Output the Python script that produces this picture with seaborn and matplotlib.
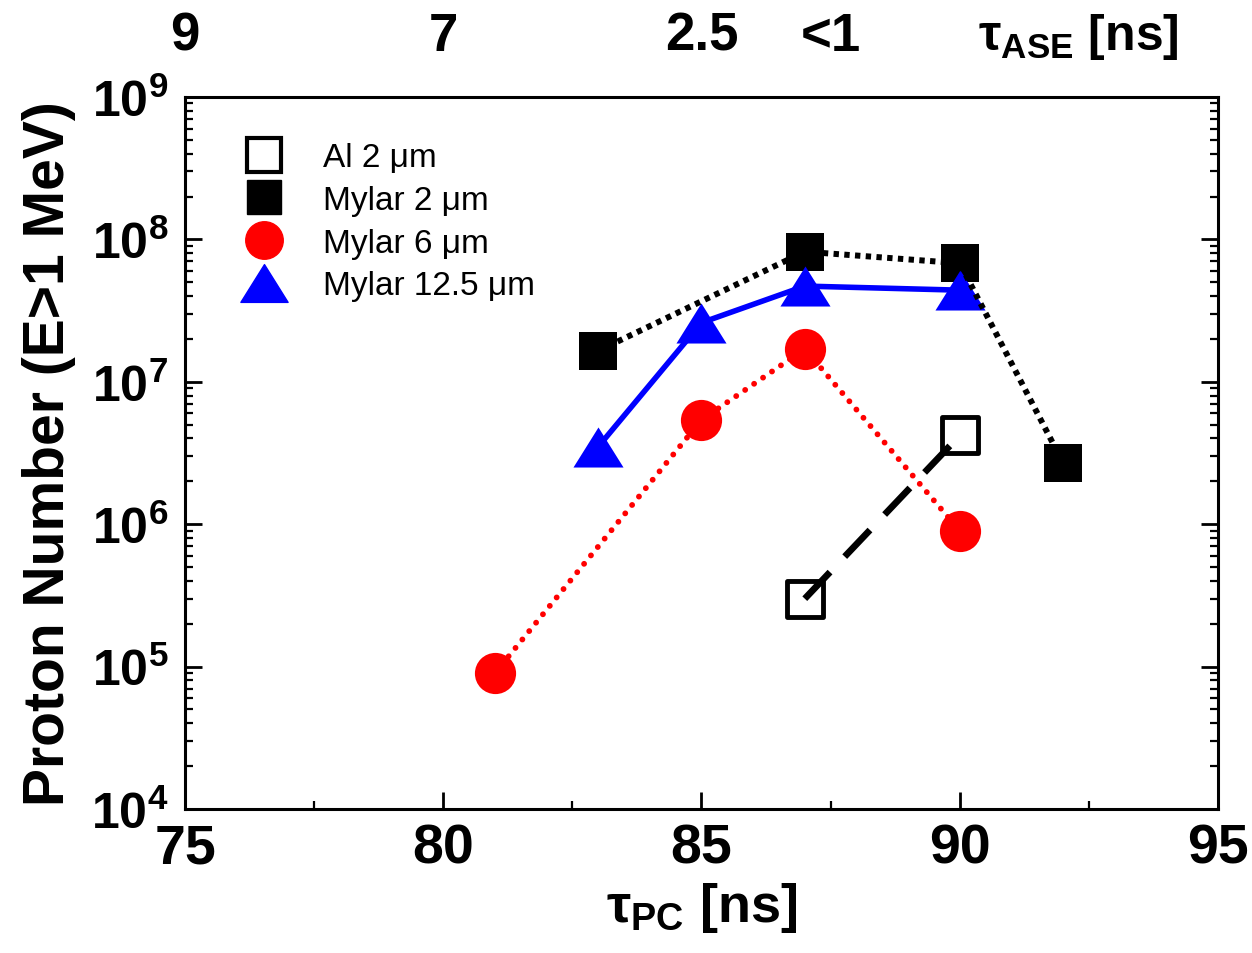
import matplotlib
matplotlib.use("Agg")
import matplotlib.pyplot as plt
import seaborn as sns
import numpy as np
import pandas as pd
from matplotlib.lines import Line2D
from matplotlib.path import Path

# ---- data ----
al2_x = [87, 90]
al2_y = [3.0e5, 4.2e6]
my2_x = [83, 87, 90, 92]
my2_y = [1.65e7, 8.2e7, 6.8e7, 2.7e6]
my6_x = [81, 85, 87, 90]
my6_y = [9.0e4, 5.4e6, 1.7e7, 9.0e5]
my12_x = [83, 85, 87, 90]
my12_y = [3.5e6, 2.6e7, 4.7e7, 4.4e7]

labels = ["Al 2 μm", "Mylar 2 μm", "Mylar 6 μm", "Mylar 12.5 μm"]

x_ticks = [75, 80, 85, 90, 95]
y_ticks = [1e4, 1e5, 1e6, 1e7, 1e8, 1e9]
y_ticklabels = [r"$\mathbf{10^{4}}$", r"$\mathbf{10^{5}}$", r"$\mathbf{10^{6}}$",
                r"$\mathbf{10^{7}}$", r"$\mathbf{10^{8}}$", r"$\mathbf{10^{9}}$"]
top_positions = [75, 80, 85, 87.5]
top_labels = ["9", "7", "2.5", "<1"]

sns.set_theme(style="ticks")
plt.rcParams["font.family"] = ["Liberation Sans", "DejaVu Sans"]
plt.rcParams["mathtext.fontset"] = "custom"
plt.rcParams["mathtext.rm"] = "Liberation Sans"
plt.rcParams["mathtext.bf"] = "Liberation Sans:bold"
plt.rcParams["mathtext.it"] = "Liberation Sans:italic"
for k in ["text.color", "axes.labelcolor", "xtick.color", "ytick.color", "axes.edgecolor"]:
    plt.rcParams[k] = "black"

fig = plt.figure(figsize=(12.52, 9.54), dpi=100)
ax = fig.add_axes([0.1478, 0.1509, 0.8250, 0.7464])

tri = Path([(-1.25, -1.0), (1.25, -1.0), (0.0, 1.0), (-1.25, -1.0)],
           [Path.MOVETO, Path.LINETO, Path.LINETO, Path.CLOSEPOLY])

df_al = pd.DataFrame({"x": al2_x, "y": al2_y})
df_m2 = pd.DataFrame({"x": my2_x, "y": my2_y})
df_m6 = pd.DataFrame({"x": my6_x, "y": my6_y})
df_m12 = pd.DataFrame({"x": my12_x, "y": my12_y})

# markers
sns.scatterplot(data=df_al, x="x", y="y", ax=ax, marker="s", s=700, color="white",
                edgecolor="black", linewidth=3.5, zorder=3)
sns.scatterplot(data=df_m2, x="x", y="y", ax=ax, marker="s", s=760, color="black",
                edgecolor="black", linewidth=0, zorder=3)
sns.scatterplot(data=df_m6, x="x", y="y", ax=ax, marker="o", s=880, color="red",
                edgecolor="red", linewidth=0, zorder=3)
sns.scatterplot(data=df_m12, x="x", y="y", ax=ax, marker=tri, s=1300, color="blue",
                edgecolor="blue", linewidth=0, zorder=3)

# lines
sns.lineplot(data=df_al, x="x", y="y", ax=ax, color="black", linewidth=4.8,
             linestyle=(0, (5.5, 3.2)), dash_capstyle="butt", zorder=4)
sns.lineplot(data=df_m2, x="x", y="y", ax=ax, color="black", linewidth=4.3,
             linestyle=(0, (0.9, 0.9)), dash_capstyle="butt", zorder=4)
sns.lineplot(data=df_m6, x="x", y="y", ax=ax, color="red", linewidth=4.2,
             linestyle=(0, (0.01, 1.85)), dash_capstyle="round", zorder=4)
sns.lineplot(data=df_m12, x="x", y="y", ax=ax, color="blue", linewidth=4.0,
             linestyle="-", zorder=4)

ax.set_yscale("log")
ax.set_xlim(75, 95)
ax.set_ylim(1e4, 1e9)
ax.set_xticks(x_ticks)
ax.set_xticklabels([str(v) for v in x_ticks], fontsize=40, fontweight="bold")
ax.set_xticks(np.arange(77.5, 95, 5), minor=True)
ax.set_yticks(y_ticks)
ax.set_yticklabels(y_ticklabels, fontsize=36)
ax.yaxis.set_minor_locator(matplotlib.ticker.LogLocator(base=10, subs=np.arange(2, 10)))
ax.yaxis.set_minor_formatter(matplotlib.ticker.NullFormatter())

for s in ax.spines.values():
    s.set_linewidth(2.2)
    s.set_color("black")
ax.tick_params(which="major", direction="in", length=12, width=2, top=True, right=True,
               colors="black")
ax.tick_params(which="minor", direction="in", length=6, width=1.6, top=True, right=True,
               colors="black")
ax.tick_params(axis="x", which="major", pad=10)
ax.tick_params(axis="y", which="major", pad=12)

ax.set_xlabel(r"τ$_{\mathbf{PC}}$ [ns]", fontsize=39, fontweight="bold", labelpad=4)
ax.set_ylabel("Proton Number (E>1 MeV)", fontsize=41, fontweight="bold", labelpad=11)

# top axis labels
ax2 = ax.twiny()
ax2.set_xlim(ax.get_xlim())
ax2.set_xticks(top_positions)
ax2.set_xticklabels(top_labels, fontsize=38, fontweight="bold")
ax2.tick_params(axis="x", length=0, pad=26)
for s in ax2.spines.values():
    s.set_visible(False)
ax.text(92.3, 1.085, r"τ$_{\mathbf{ASE}}$ [ns]", transform=ax.get_xaxis_transform(),
        fontsize=36, fontweight="bold", ha="center", va="center")

# legend
handles = [
    Line2D([], [], linestyle="none", marker="s", markersize=24, markerfacecolor="white",
           markeredgecolor="black", markeredgewidth=3),
    Line2D([], [], linestyle="none", marker="s", markersize=25, markerfacecolor="black",
           markeredgecolor="black"),
    Line2D([], [], linestyle="none", marker="o", markersize=27, markerfacecolor="red",
           markeredgecolor="red"),
    Line2D([], [], linestyle="none", marker=tri, markersize=34, markerfacecolor="blue",
           markeredgecolor="blue"),
]
ax.legend(handles, labels, loc="upper left", bbox_to_anchor=(0.038, 0.955), frameon=False,
          fontsize=24, handlelength=1.6, handletextpad=0.95, labelspacing=0.35,
          borderaxespad=0)

fig.savefig("out.png", dpi=100)
